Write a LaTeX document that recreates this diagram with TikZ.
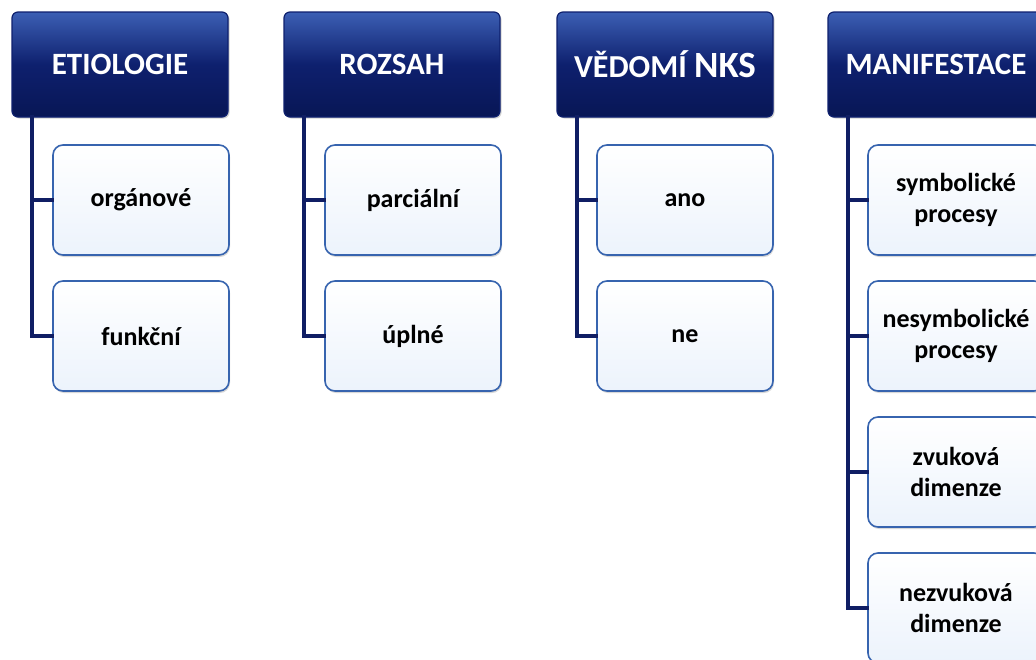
\documentclass[tikz,border=0pt]{standalone}
\usepackage{fontspec}
\setmainfont{Carlito}
\usetikzlibrary{shadows}
\definecolor{navy}{RGB}{14,32,110}
\definecolor{navytop}{RGB}{60,95,180}
\definecolor{navybot}{RGB}{8,22,85}
\definecolor{boxline}{RGB}{55,100,175}
\definecolor{boxfill}{RGB}{236,243,252}
\definecolor{linecol}{RGB}{16,30,100}
\tikzset{
  header/.style={draw=navy, line width=1.2pt, rounded corners=6pt,
    top color=navytop, bottom color=navybot, middle color=navy,
    minimum width=216pt, minimum height=105pt, inner sep=0pt,
    text=white, font=\bfseries\fontsize{31}{36}\selectfont,
    drop shadow={shadow xshift=1.5pt, shadow yshift=-1.5pt, opacity=0.35}},
  child/.style={draw=boxline, line width=1.6pt, rounded corners=10pt,
    top color=white, bottom color=boxfill,
    minimum width=176pt, minimum height=110pt, inner sep=0pt,
    align=center, text=black, font=\bfseries\fontsize{26}{31.5}\selectfont,
    drop shadow={shadow xshift=1pt, shadow yshift=-2pt, opacity=0.3}},
  conn/.style={draw=linecol, line width=4pt, line cap=rect}
}
\begin{document}
\begin{tikzpicture}[x=1pt,y=-1pt]
\useasboundingbox (0,0) rectangle (1036,659);
\clip (0,0) rectangle (1036,659);
\fill[white] (0,0) rectangle (1036,659);
% column 1
\coordinate (l1) at (32,117);
\node[header] (h1) at (120,64.5) {ETIOLOGIE};
\node[child] (c11) at (141,200) {orgánové};
\node[child] (c12) at (141,336) {funkční};
\draw[conn] (l1) |- (c11.west);
\draw[conn] (l1) |- (c12.west);
% column 2
\coordinate (l2) at (304,117);
\node[header] (h2) at (392,64.5) {ROZSAH};
\node[child] (c21) at (413,200) {parciální};
\node[child] (c22) at (413,336) {úplné};
\draw[conn] (l2) |- (c21.west);
\draw[conn] (l2) |- (c22.west);
% column 3
\coordinate (l3) at (577,117);
\node[header] (h3) at (665,64.5) {\fontsize{32}{36}\selectfont VĚDOMÍ \fontsize{37}{40}\selectfont NKS};
\node[child] (c31) at (685,200) {ano};
\node[child] (c32) at (685,336) {ne};
\draw[conn] (l3) |- (c31.west);
\draw[conn] (l3) |- (c32.west);
% column 4
\coordinate (l4) at (848,117);
\node[header] (h4) at (936,64.5) {MANIFESTACE};
\node[child] (c41) at (956,200) {symbolické\\procesy};
\node[child] (c42) at (956,336) {nesymbolické\\procesy};
\node[child] (c43) at (956,472) {zvuková\\dimenze};
\node[child] (c44) at (956,608) {nezvuková\\dimenze};
\draw[conn] (l4) |- (c41.west);
\draw[conn] (l4) |- (c42.west);
\draw[conn] (l4) |- (c43.west);
\draw[conn] (l4) |- (c44.west);
\end{tikzpicture}
\end{document}
